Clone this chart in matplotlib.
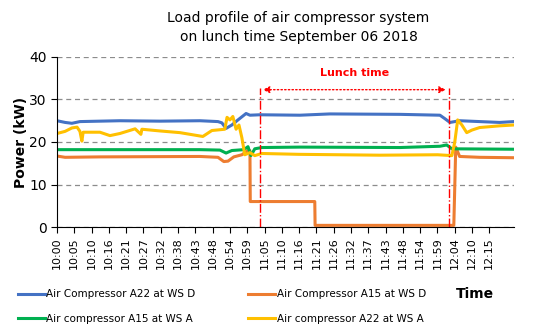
import matplotlib.pyplot as plt

# minutes after 10:00
blue_x = [0, 2.5, 4.6, 7.1, 19.5, 31.9, 44.3, 49.9, 51.1, 52.4, 54.2, 56.1, 58.6, 59.8, 62.9, 75.3, 84.6, 106.3, 118.7, 120.2, 121.8, 124.8, 131.0, 137.2, 141.6]
blue_y = [25.0, 24.6, 24.4, 24.8, 25.0, 24.9, 25.0, 24.8, 24.5, 23.2, 24.0, 25.2, 26.7, 26.3, 26.4, 26.3, 26.6, 26.5, 26.3, 25.5, 24.6, 25.0, 24.8, 24.6, 24.8]

orange_x = [0, 2.5, 13.3, 44.3, 49.9, 51.7, 53.0, 54.8, 57.3, 59.2, 59.8, 59.9, 79.9, 80.0, 123.0, 123.6, 124.8, 131.0, 141.6]
orange_y = [16.7, 16.4, 16.5, 16.6, 16.4, 15.4, 15.5, 16.5, 17.0, 18.0, 18.0, 6.0, 6.0, 0.4, 0.4, 18.8, 16.6, 16.4, 16.3]

green_x = [0, 13.3, 44.3, 50.5, 52.4, 54.2, 57.9, 59.2, 60.1, 61.3, 63.5, 75.3, 106.3, 118.7, 120.8, 122.4, 141.6]
green_y = [18.2, 18.2, 18.2, 18.1, 17.4, 18.0, 18.2, 18.9, 16.8, 18.4, 18.7, 18.8, 18.7, 19.0, 19.3, 18.4, 18.3]

yellow_x = [0, 2.5, 4.6, 6.2, 7.1, 7.7, 8.1, 13.3, 16.4, 19.5, 24.2, 26.0, 26.3, 31.9, 38.1, 45.2, 48.0, 52.0, 52.7,
            53.6, 54.5, 55.5, 56.4, 57.3, 58.2, 59.8, 61.3, 63.5, 75.0, 100.0, 118.0, 122.4, 123.3, 124.2, 125.5,
            127.0, 128.6, 131.0, 137.2, 141.6]
yellow_y = [22.0, 22.5, 23.3, 23.5, 22.5, 20.2, 22.3, 22.3, 21.5, 22.0, 23.1, 21.8, 23.0, 22.6, 22.2, 21.3, 22.7, 23.0, 25.8,
            25.2, 26.0, 23.0, 24.0, 21.0, 17.0, 17.5, 16.8, 17.3, 17.1, 16.9, 17.0, 16.8, 20.0, 25.2, 24.0,
            22.2, 22.8, 23.4, 23.8, 24.0]

tick_labels = ['10:00', '10:05', '10:10', '10:16', '10:21', '10:27', '10:32', '10:38', '10:43', '10:48',
               '10:54', '10:59', '11:05', '11:10', '11:16', '11:21', '11:26', '11:32', '11:37', '11:43',
               '11:48', '11:54', '11:59', '12:04', '12:10', '12:15']
tick_step = 5.36
lunch_start = 62.9
lunch_end = 121.4

fig = plt.figure(figsize=(5.33, 3.31), dpi=100)
ax = fig.add_axes([0.107, 0.314, 0.857, 0.514])

ax.plot(blue_x, blue_y, color='#4472C4', lw=2.2, label='Air Compressor A22 at WS D')
ax.plot(orange_x, orange_y, color='#ED7D31', lw=2.2, label='Air Compressor A15 at WS D')
ax.plot(green_x, green_y, color='#00B050', lw=2.2, label='Air compressor A15 at WS A')
ax.plot(yellow_x, yellow_y, color='#FFC000', lw=2.2, label='Air compressor A22 at WS A')

# lunch time markers
for xv in [lunch_start, lunch_end]:
    ax.plot([xv, xv], [0, 32.7], color='red', lw=1, ls='-.')
ax.annotate('', xy=(lunch_start, 32.3), xytext=(lunch_end, 32.3),
            arrowprops=dict(arrowstyle='<|-|>', color='red', lw=1, ls=':', mutation_scale=10))
ax.text((lunch_start + lunch_end) / 2, 36.3, 'Lunch time', color='red', fontweight='bold',
        fontsize=8, ha='center', va='center')

ax.set_ylim(0, 40)
ax.set_xlim(0, 141.6)
ax.set_yticks([0, 10, 20, 30, 40])
ax.tick_params(axis='y', labelsize=10, length=4)
ax.set_xticks([i * tick_step for i in range(len(tick_labels))])
ax.set_xticklabels(tick_labels, rotation=90, fontsize=8)
ax.tick_params(axis='x', length=4)
ax.yaxis.grid(True, ls='--', color='#8c8c8c', lw=0.9, dashes=(4, 3))
ax.set_axisbelow(True)
ax.spines['top'].set_visible(False)
ax.spines['right'].set_visible(False)
ax.set_ylabel('Power (kW)', fontsize=10, fontweight='bold', labelpad=1)

fig.text(0.56, 0.918, 'Load profile of air compressor system\non lunch time September 06 2018',
         fontsize=10, ha='center', va='center', linespacing=1.45)

handles, labels = ax.get_legend_handles_labels()
order = [0, 2, 1, 3]
fig.legend([handles[i] for i in order], [labels[i] for i in order], ncol=2, loc='center left',
           bbox_to_anchor=(0.016, 0.074), frameon=False, fontsize=7.5, handlelength=2.6,
           handletextpad=0.1, columnspacing=5.1, labelspacing=1.4)
fig.text(0.855, 0.112, 'Time', fontsize=10, fontweight='bold', ha='left', va='center')

fig.savefig('out.png', dpi=100)
